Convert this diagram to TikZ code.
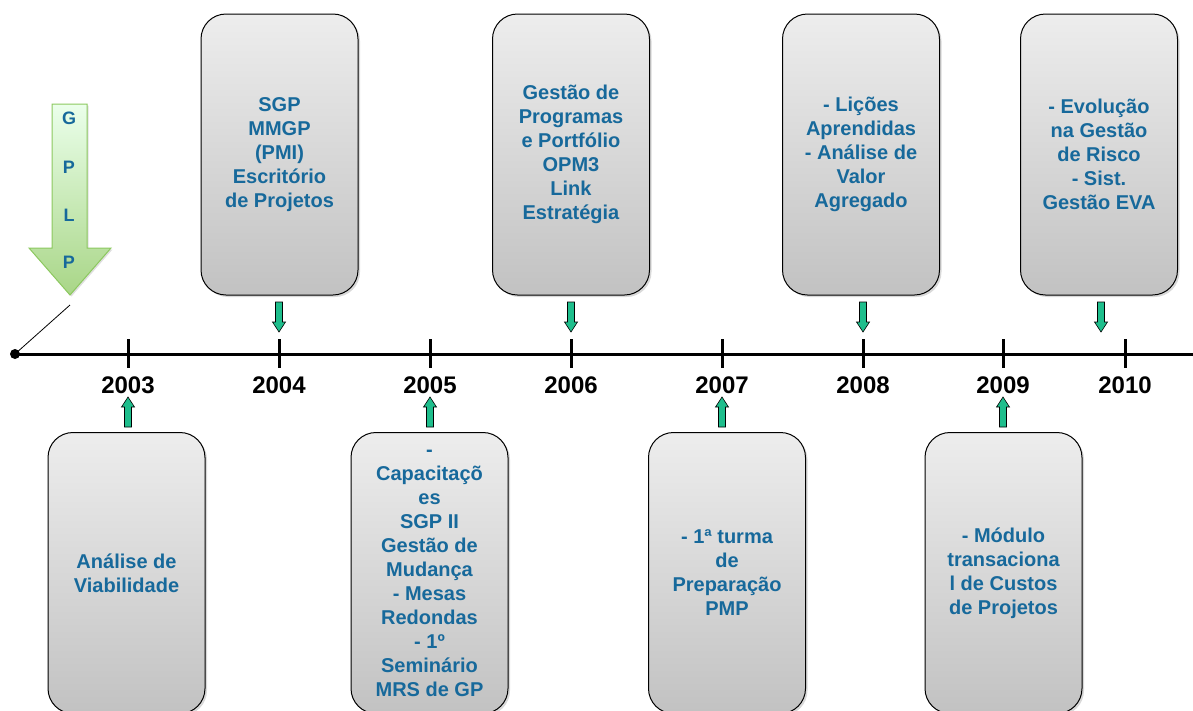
\documentclass[tikz,border=0pt]{standalone}
\usepackage{fontspec}
\setmainfont{Liberation Sans}
\usetikzlibrary{shadows}
\definecolor{txtblue}{RGB}{23,105,155}
\definecolor{mark}{RGB}{30,190,140}
\definecolor{leafgreen}{RGB}{140,200,95}
\tikzset{
  event/.style={draw=black, line width=1pt, rounded corners=25pt,
    minimum width=157pt, minimum height=281pt, inner sep=0pt,
    top color=gray!14, bottom color=gray!48,
    drop shadow={opacity=0.3, shadow xshift=2pt, shadow yshift=-2pt},
    text=txtblue, align=center,
    font=\fontsize{20}{24}\selectfont\bfseries},
  year/.style={font=\fontsize{24}{28}\selectfont\bfseries, text=black},
  tick/.style={line width=3pt},
  axis/.style={line width=3pt},
  pointer/.style={fill=mark, draw=black, line width=0.6pt},
  gplp/.style={text=txtblue, font=\fontsize{18}{20}\selectfont\bfseries}
}
\begin{document}
\begin{tikzpicture}[x=1pt, y=-1pt]
\useasboundingbox (0,0) rectangle (1193,710);

% timeline axis
\coordinate (start) at (15,354);
\coordinate (end) at (1193,354);
\draw[axis] (start) -- (end);
\fill (start) circle (5pt);

% year ticks and labels
\foreach \x/\yr in {128/2003, 279/2004, 430/2005, 571/2006, 722/2007, 863/2008, 1003/2009, 1125/2010}{
  \draw[tick] (\x,339) -- (\x,368);
  \node[year] (y\yr) at (\x,385) {\yr};
}

% GPLP arrow
\shade[top color=green!8, bottom color=leafgreen!75, draw=leafgreen, line width=1pt,
  drop shadow={opacity=0.25, shadow xshift=1.5pt, shadow yshift=-1.5pt}]
  (52,104) -- (87,104) -- (87,248) -- (111,248) -- (70,295) -- (29,248) -- (52,248) -- cycle;
\node[gplp] (g1) at (69,118) {G};
\node[gplp] (g2) at (69,167) {P};
\node[gplp] (g3) at (69,215) {L};
\node[gplp] (g4) at (69,262) {P};
\coordinate (gtip) at (70,305);
\draw[line width=0.8pt] (gtip) -- (start);

% upper events
\node[event] (e2004) at (279.5,154.5) {SGP\\MMGP\\(PMI)\\Escritório\\de Projetos};
\node[event] (e2006) at (571,154.5) {Gestão de\\Programas\\e Portfólio\\OPM3\\Link\\Estratégia};
\node[event] (e2008) at (861,154.5) {- Lições\\Aprendidas\\- Análise de\\Valor\\Agregado};
\node[event] (e2010) at (1099,154.5) {- Evolução\\na Gestão\\de Risco\\- Sist.\\Gestão EVA};

% lower events
\node[event] (e2003) at (126.5,573) {Análise de\\Viabilidade};
\node[event] (e2005) at (429.5,573) {-\\Capacitaçõ\\es\\SGP II\\Gestão de\\Mudança\\- Mesas\\Redondas\\- 1º\\Seminário\\MRS de GP};
\node[event] (e2007) at (727,573) {- 1ª turma\\de\\Preparação\\PMP};
\node[event] (e2009) at (1003.5,573) {- Módulo\\transaciona\\l de Custos\\de Projetos};

% small pointers towards the axis
\foreach \x in {279, 571, 863, 1101}{
  \draw[pointer] (\x-3.5,302) -- (\x+3.5,302) -- (\x+3.5,322) -- (\x+6.5,322)
    -- (\x,332) -- (\x-6.5,322) -- (\x-3.5,322) -- cycle;
}
\foreach \x in {128, 430, 722, 1003}{
  \draw[pointer] (\x-3.5,427) -- (\x+3.5,427) -- (\x+3.5,407) -- (\x+6.5,407)
    -- (\x,397) -- (\x-6.5,407) -- (\x-3.5,407) -- cycle;
}
\end{tikzpicture}
\end{document}
